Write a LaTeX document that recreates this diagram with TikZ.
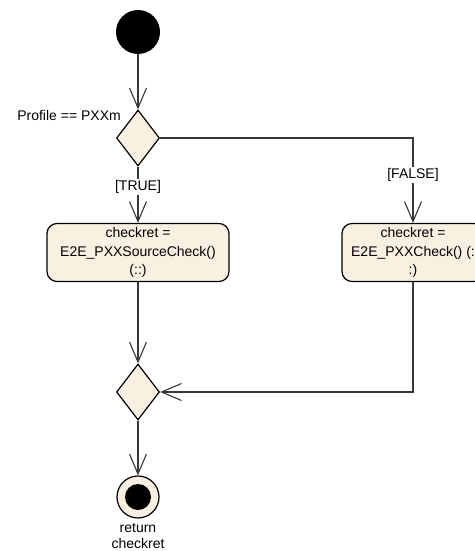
\documentclass[tikz,border=0pt]{standalone}
\usepackage{fontspec}
\setmainfont{Liberation Sans}
\usetikzlibrary{shapes.geometric,arrows.meta}
\definecolor{umlfill}{RGB}{250,240,225}
\definecolor{linec}{RGB}{55,55,55}
\begin{document}
\begin{tikzpicture}[x=1pt,y=-1pt,
  every node/.style={font=\fontsize{14}{18.5}\selectfont},
  flow/.style={draw=linec,line width=1.2pt,-{Straight Barb[length=20pt,width=17pt,line width=1.1pt]}},
  decision/.style={diamond,draw=black,fill=umlfill,line width=1.2pt,inner sep=0pt,minimum width=43pt,minimum height=56pt},
  action/.style={rectangle,rounded corners=10pt,draw=black,fill=umlfill,line width=1.2pt,align=center,minimum height=58pt,inner sep=0pt},
  guard/.style={fill=white,inner sep=1.5pt}]
\useasboundingbox (0,0) rectangle (474,551);
\node[circle,fill=black,minimum size=44pt,inner sep=0pt] (start) at (138,32) {};
\node[decision] (d1) at (138,138) {};
\node[anchor=base east,inner sep=0pt] (lbl) at (121,120) {Profile == PXXm};
\node[action,minimum width=182pt] (b1) at (138,252.5) {checkret =\\E2E\_PXXSourceCheck()\\(::)};
\node[action,minimum width=142pt] (b2) at (413,252.5) {checkret =\\E2E\_PXXCheck() (:\\:)};
\node[decision] (d2) at (138,392) {};
\node[circle,draw=black,fill=umlfill,line width=1.2pt,minimum size=42pt,inner sep=0pt] (end) at (138,497) {};
\node[circle,fill=black,minimum size=26pt,inner sep=0pt] (endin) at (end.center) {};
\node[align=center,anchor=base,inner sep=0pt,font=\fontsize{14}{16.5}\selectfont] (ret) at (138,548.5) {return\\checkret};
\draw[flow] (start) -- (d1.north);
\draw[flow] (d1.south) -- node[guard,pos=0.36] (t) {[TRUE]} (b1.north);
\draw[flow] (d1.east) -| node[guard,pos=0.72] (f) {[FALSE]} (b2.north);
\draw[flow] (b1.south) -- (d2.north);
\draw[flow] (b2.south) |- (d2.east);
\draw[flow] (d2.south) -- (end.north);
\end{tikzpicture}
\end{document}
